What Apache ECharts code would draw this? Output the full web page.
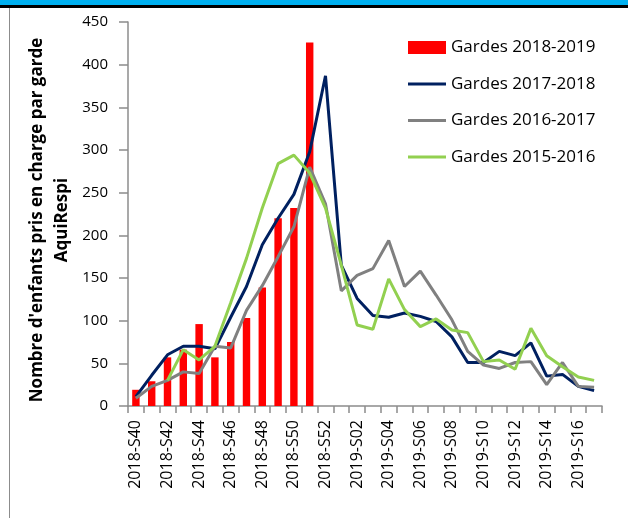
<!DOCTYPE html>
<html>
<head>
<meta charset="utf-8">
<script src="https://cdn.jsdelivr.net/npm/echarts@6/dist/echarts.min.js"></script>
<style>
  html, body { margin: 0; padding: 0; background: #fff; }
  #wrap { position: relative; width: 628px; height: 518px; overflow: hidden; }
  #chart { position: absolute; left: 0; top: 0; width: 628px; height: 518px; }
  .deco { position: absolute; pointer-events: none; z-index: 5; }
</style>
</head>
<body>
<div id="wrap">
  <div id="chart"></div>
  <div class="deco" style="left:0;top:0;width:628px;height:5px;background:#00B0F0;"></div>
  <div class="deco" style="left:0;top:5px;width:628px;height:3px;background:#000;"></div>
  <div class="deco" style="left:9px;top:8px;width:1px;height:510px;background:#8c8c8c;"></div>
</div>
<script>
// ---- data ----
const weeks = [
  '2018-S40','2018-S41','2018-S42','2018-S43','2018-S44','2018-S45','2018-S46',
  '2018-S47','2018-S48','2018-S49','2018-S50','2018-S51','2018-S52',
  '2019-S01','2019-S02','2019-S03','2019-S04','2019-S05','2019-S06','2019-S07',
  '2019-S08','2019-S09','2019-S10','2019-S11','2019-S12','2019-S13','2019-S14',
  '2019-S15','2019-S16','2019-S17'
];
const gardes2018_2019 = [19, 29, 57, 66, 96, 57, 75, 103, 139, 220, 232, 426];
const gardes2017_2018 = [11, 36, 60, 70, 70, 67, 104, 140, 189, 220, 248, 298, 387,
  165, 126, 106, 104, 109, 105, 99, 81, 51, 51, 64, 59, 74, 35, 37, 23, 18];
const gardes2016_2017 = [9, 23, 30, 40, 38, 70, 68, 112, 141, 175, 210, 280, 237,
  135, 153, 161, 194, 140, 158, 130, 101, 64, 48, 44, 51, 52, 25, 51, 23, 22];
const gardes2015_2016 = [null, null, 30, 66, 54, 70, 121, 173, 232, 284, 294, 273, 232,
  165, 95, 90, 149, 113, 93, 102, 89, 86, 52, 54, 43, 91, 59, 46, 34, 30];
const seriesNames = ['Gardes 2018-2019', 'Gardes 2017-2018', 'Gardes 2016-2017', 'Gardes 2015-2016'];
const yTitle = "Nombre d'enfants pris en charge par garde\nAquiRespi";

const FONT = "'Open Sans', 'Liberation Sans', sans-serif";
const axisGray = '#8c8c8c';
const lineIcon = 'path://M0,0 L38,0 L38,3 L0,3 Z';

const chart = echarts.init(document.getElementById('chart'), null, { renderer: 'canvas' });
chart.setOption({
  backgroundColor: '#ffffff',
  animation: false,
  textStyle: { fontFamily: FONT },
  grid: { left: 128, right: 26, top: 22, bottom: 112, containLabel: false },
  legend: {
    orient: 'vertical',
    left: 408,
    top: 39,
    padding: 0,
    itemWidth: 38,
    itemHeight: 13,
    itemGap: 19.5,
    textStyle: { fontFamily: FONT, fontSize: 17, color: '#000' },
    data: [
      { name: seriesNames[0], icon: 'rect' },
      { name: seriesNames[1], icon: lineIcon },
      { name: seriesNames[2], icon: lineIcon },
      { name: seriesNames[3], icon: lineIcon }
    ]
  },
  graphic: [{
    type: 'text',
    x: 50, y: 220,
    rotation: Math.PI / 2,
    style: {
      text: yTitle,
      fontFamily: FONT, fontSize: 17, fontWeight: 'bold', fill: '#000',
      lineHeight: 25, align: 'center', verticalAlign: 'middle'
    }
  }],
  xAxis: {
    type: 'category',
    data: weeks,
    boundaryGap: true,
    axisLine: { show: true, lineStyle: { color: axisGray, width: 1.5 } },
    axisTick: { show: true, interval: 0, length: 7, lineStyle: { color: axisGray, width: 1.5 } },
    axisLabel: {
      interval: 1, rotate: 90, margin: 14,
      fontFamily: FONT, fontSize: 16, color: '#000'
    },
    splitLine: { show: false }
  },
  yAxis: {
    type: 'value',
    min: 0, max: 450, interval: 50,
    axisLine: { show: true, lineStyle: { color: axisGray, width: 1.5 } },
    axisTick: { show: true, length: 9, lineStyle: { color: axisGray, width: 1.5 } },
    axisLabel: { margin: 20, fontFamily: FONT, fontSize: 15, color: '#000' },
    splitLine: { show: false }
  },
  series: [
    {
      name: seriesNames[0], type: 'bar', data: gardes2018_2019,
      barWidth: '47%', itemStyle: { color: '#FF0000' }, z: 1
    },
    {
      name: seriesNames[1], type: 'line', data: gardes2017_2018,
      symbol: 'none', lineStyle: { color: '#002060', width: 3 }, itemStyle: { color: '#002060' }, z: 3
    },
    {
      name: seriesNames[2], type: 'line', data: gardes2016_2017,
      symbol: 'none', lineStyle: { color: '#808080', width: 3 }, itemStyle: { color: '#808080' }, z: 3
    },
    {
      name: seriesNames[3], type: 'line', data: gardes2015_2016,
      symbol: 'none', lineStyle: { color: '#92D050', width: 3 }, itemStyle: { color: '#92D050' }, z: 3
    }
  ]
});
</script>
</body>
</html>
